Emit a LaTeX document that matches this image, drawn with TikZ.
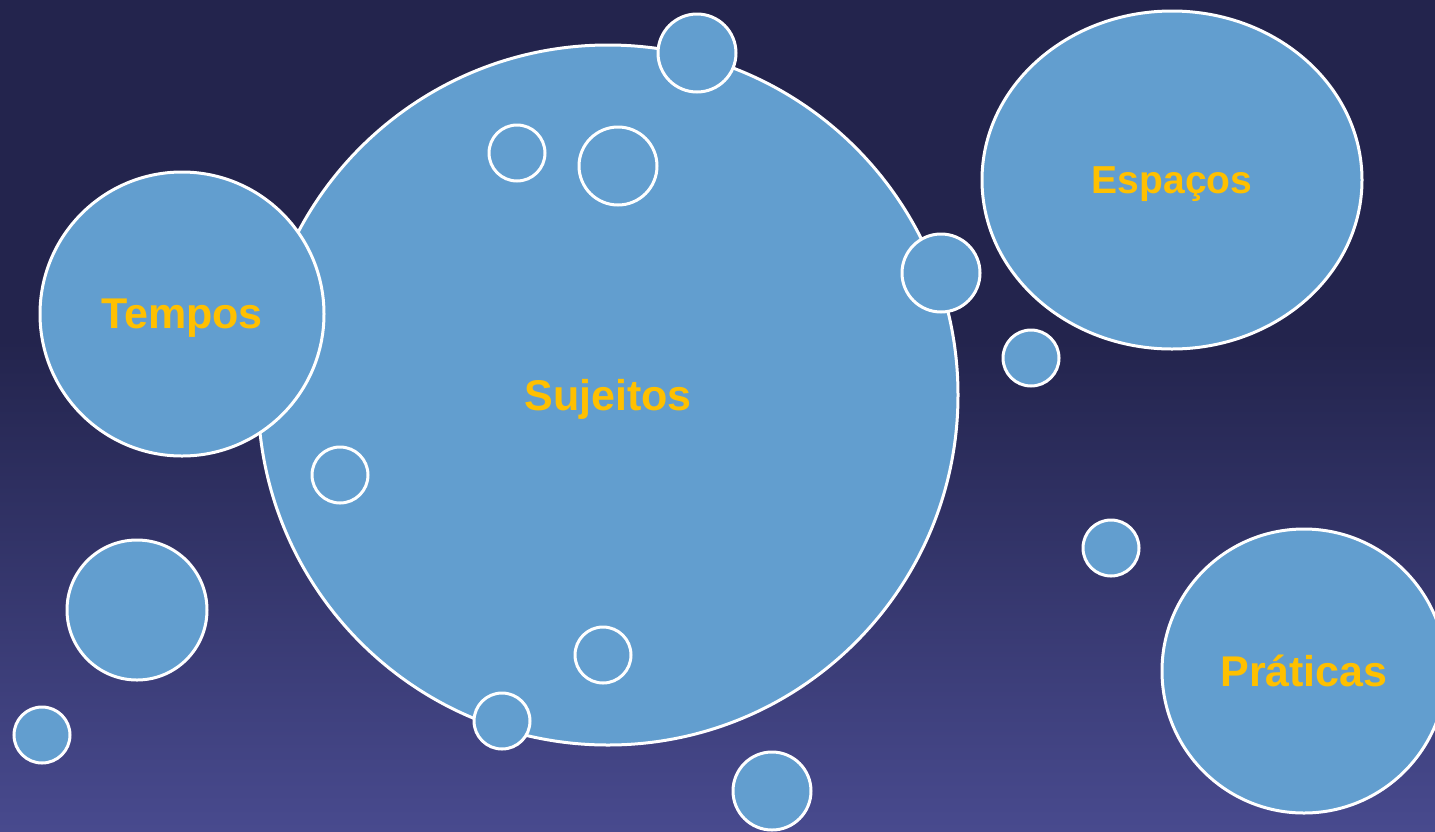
\documentclass[tikz,border=0pt]{standalone}
\usepackage{fontspec}
\setmainfont{Liberation Sans}
\usetikzlibrary{shapes.geometric}
\definecolor{bgtop}{HTML}{23244D}
\definecolor{bgbot}{HTML}{484A8E}
\definecolor{bub}{HTML}{629ECF}
\definecolor{lbl}{HTML}{FFC000}
\tikzset{
  bubble/.style={circle,draw=white,fill=bub,line width=3pt,inner sep=0pt,minimum size=#1},
  word/.style={text=lbl,font=\fontsize{43}{43}\selectfont\bfseries,text depth=0pt}
}
\begin{document}
\begin{tikzpicture}[x=1pt,y=-1pt]
\useasboundingbox (0,0) rectangle (1435,831);
\fill[bgtop] (0,0) rectangle (1435,341);
\shade[top color=bgtop,bottom color=bgbot] (0,340) rectangle (1435,831);
\node[bubble=700pt,word] (suj) at (608,395) {Sujeitos};
\node[bubble=284pt,word] (tem) at (182,314) {Tempos};
\node[ellipse,draw=white,fill=bub,line width=3pt,inner sep=0pt,minimum width=380pt,minimum height=338pt,word,font=\fontsize{39}{39}\selectfont\bfseries] (esp) at (1172,180) {Espaços};
\node[bubble=284pt,word] (pra) at (1304,671) {Práticas};
\def\rs{56pt};\def\rm{78pt};\def\rl{140pt};
\foreach \x/\y/\d [count=\i] in {697/53/\rm, 517/153/\rs, 618/166/\rm, 941/273/\rm,
    1031/358/\rs, 340/475/\rs, 1111/548/\rs, 137/610/\rl, 42/735/\rs,
    603/655/\rs, 502/721/\rs, 772/791/\rm}
  \node[bubble=\d] (b\i) at (\x,\y) {};
\end{tikzpicture}
\end{document}
